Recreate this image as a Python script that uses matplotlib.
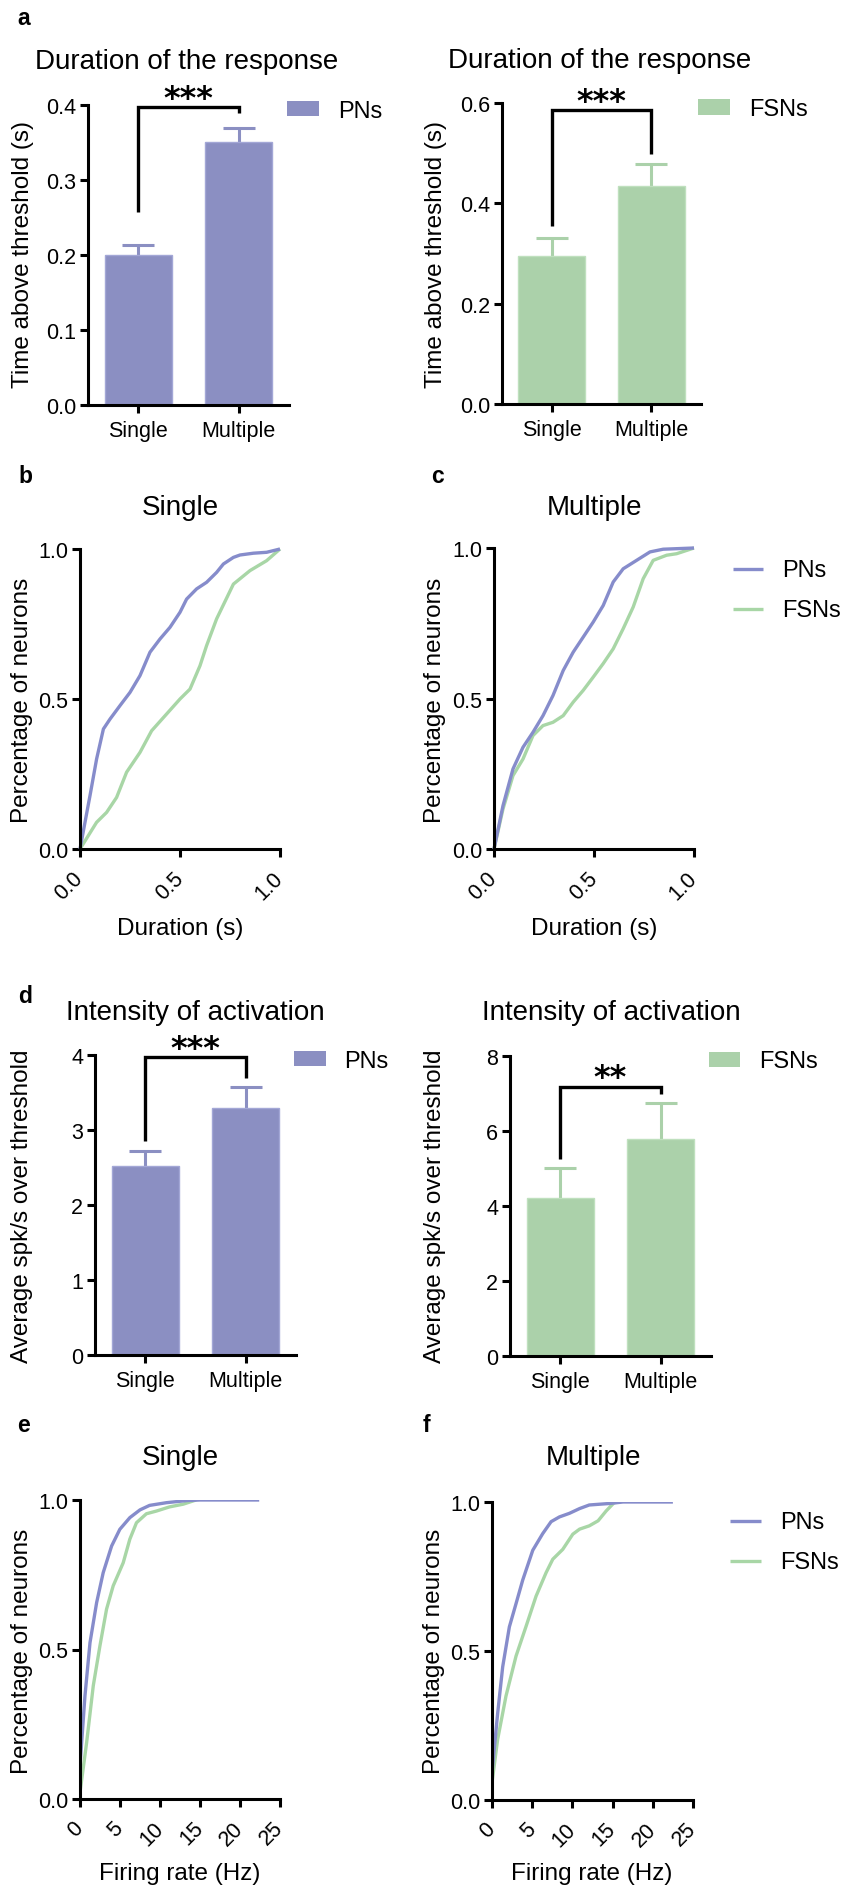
import matplotlib
matplotlib.use('Agg')
import matplotlib.pyplot as plt
import numpy as np
from matplotlib.patches import Rectangle
from matplotlib.lines import Line2D

plt.rcParams['font.family'] = ['Liberation Sans', 'DejaVu Sans']

# ---------------- data ----------------
categories = ['Single', 'Multiple']

dur_pn_mean = [0.200, 0.351]
dur_pn_sem = [0.014, 0.019]
dur_fsn_mean = [0.296, 0.434]
dur_fsn_sem = [0.035, 0.044]

int_pn_mean = [2.52, 3.30]
int_pn_sem = [0.20, 0.27]
int_fsn_mean = [4.22, 5.80]
int_fsn_sem = [0.80, 0.96]

# cumulative distributions of response duration (s)
dur_single_pn_x = [0, 0.05, 0.083, 0.117, 0.15, 0.2, 0.25, 0.3, 0.35, 0.4, 0.45, 0.5, 0.533, 0.583,
                   0.633, 0.683, 0.717, 0.767, 0.8, 0.867, 0.933, 1.0]
dur_single_pn_y = [0, 0.178, 0.30, 0.40, 0.433, 0.478, 0.522, 0.578, 0.656, 0.70, 0.739, 0.789, 0.833,
                   0.867, 0.889, 0.922, 0.95, 0.972, 0.98, 0.986, 0.989, 1.0]
dur_single_fsn_x = [0, 0.083, 0.133, 0.183, 0.233, 0.3, 0.358, 0.433, 0.5, 0.55, 0.6, 0.633, 0.683,
                    0.767, 0.85, 0.933, 1.0]
dur_single_fsn_y = [0, 0.089, 0.122, 0.172, 0.256, 0.322, 0.394, 0.45, 0.5, 0.533, 0.611, 0.678, 0.767,
                    0.883, 0.928, 0.961, 1.0]

dur_multi_pn_x = [0, 0.045, 0.095, 0.145, 0.195, 0.245, 0.295, 0.346, 0.396, 0.446, 0.496, 0.546, 0.596,
                  0.646, 0.713, 0.78, 0.846, 1.0]
dur_multi_pn_y = [0, 0.144, 0.266, 0.338, 0.388, 0.443, 0.51, 0.593, 0.654, 0.704, 0.754, 0.809, 0.887,
                  0.931, 0.959, 0.987, 0.996, 1.0]
dur_multi_fsn_x = [0, 0.045, 0.095, 0.145, 0.195, 0.245, 0.295, 0.346, 0.396, 0.446, 0.496, 0.546, 0.596,
                   0.646, 0.696, 0.746, 0.796, 0.863, 0.913, 1.0]
dur_multi_fsn_y = [0, 0.133, 0.244, 0.299, 0.377, 0.41, 0.421, 0.443, 0.488, 0.527, 0.571, 0.616, 0.665,
                   0.732, 0.804, 0.898, 0.959, 0.976, 0.981, 1.0]

# cumulative distributions of firing rate (Hz)
fr_single_pn_x = [0, 0.62, 1.25, 2.08, 2.9, 3.95, 4.98, 6.23, 7.5, 8.7, 10.8, 13.3, 15.0, 22.4]
fr_single_pn_y = [0.111, 0.345, 0.523, 0.657, 0.757, 0.846, 0.902, 0.941, 0.967, 0.982, 0.991, 0.998, 1.0, 1.0]
fr_single_fsn_x = [0, 0.83, 1.66, 2.49, 3.32, 4.15, 5.4, 6.23, 7.06, 8.3, 9.55, 11.2, 12.9, 14.5]
fr_single_fsn_y = [0.022, 0.189, 0.379, 0.512, 0.635, 0.713, 0.79, 0.869, 0.924, 0.954, 0.963, 0.977, 0.986, 1.0]

fr_multi_pn_x = [0, 0.7, 1.33, 2.16, 2.99, 3.82, 5.07, 6.31, 7.35, 8.39, 9.63, 10.9, 12.1, 14.6, 16.3, 22.5]
fr_multi_pn_y = [0.092, 0.29, 0.447, 0.581, 0.659, 0.738, 0.838, 0.894, 0.934, 0.95, 0.962, 0.978, 0.99,
                 0.995, 1.0, 1.0]
fr_multi_fsn_x = [0, 0.7, 1.74, 2.99, 4.24, 5.48, 6.73, 7.56, 8.8, 10.05, 10.9, 12.1, 13.2, 14.2, 15.2, 15.9]
fr_multi_fsn_y = [0.058, 0.203, 0.349, 0.483, 0.583, 0.684, 0.763, 0.808, 0.841, 0.892, 0.909, 0.92, 0.937,
                  0.97, 0.998, 1.0]

dur_bar_yticks_pn = [0.0, 0.1, 0.2, 0.3, 0.4]
dur_bar_yticks_fsn = [0.0, 0.2, 0.4, 0.6]
int_bar_yticks_pn = [0, 1, 2, 3, 4]
int_bar_yticks_fsn = [0, 2, 4, 6, 8]
cdf_yticks = [0.0, 0.5, 1.0]
dur_xticks = [0.0, 0.5, 1.0]
fr_xticks = [0, 5, 10, 15, 20, 25]

# ---------------- style ----------------
PN_BAR = '#8b8fc2'
PN_EDGE = '#a3a7d6'
FSN_BAR = '#abd1aa'
FSN_EDGE = '#bfe0be'
PN_LINE = '#868ccb'
FSN_LINE = '#a8d6a6'

W, H = 847, 1890
fig = plt.figure(figsize=(W / 100, H / 100), dpi=100)
fig.patch.set_facecolor('white')

SPINE_LW = 2.2
TICK_FS = 15.5
LABEL_FS = 17.5
TITLE_FS = 20
LEG_FS = 17
LETTER_FS = 16.5


def px_axes(x0, y0, x1, y1):
    return fig.add_axes([x0 / W, 1 - y1 / H, (x1 - x0) / W, (y1 - y0) / H])


def ftext(x, y, s, **kw):
    return fig.text(x / W, 1 - y / H, s, **kw)


def style(ax):
    for side in ['top', 'right']:
        ax.spines[side].set_visible(False)
    for side in ['left', 'bottom']:
        ax.spines[side].set_linewidth(SPINE_LW)
        ax.spines[side].set_color('black')
        ax.spines[side].set_capstyle('projecting')
    ax.tick_params(direction='out', length=5.5, width=SPINE_LW, labelsize=TICK_FS,
                   color='black', pad=3)
    ax.set_facecolor('none')


def bar_panel(rect, means, sems, color, edge, ymax, yticks, yfmt, bracket, stars, star_y):
    ax = px_axes(*rect)
    style(ax)
    xpos = np.arange(len(categories))
    # symmetric error bars drawn behind the opaque bars, so only the upper half shows
    ax.errorbar(xpos, means, yerr=sems, fmt='none', ecolor=color,
                elinewidth=2.2, capsize=11.5, capthick=2.2, zorder=1)
    ax.bar(xpos, means, width=0.67, color=color, edgecolor=edge, linewidth=1.0, zorder=2)
    ax.set_xlim(-0.5, 1.5)
    ax.set_ylim(0, ymax)
    ax.set_xticks(xpos)
    ax.set_xticklabels(categories)
    ax.tick_params(axis='x', pad=5)
    ax.set_yticks(yticks)
    ax.set_yticklabels([yfmt.format(v) for v in yticks])
    l0, top, l1 = bracket
    ax.plot([0, 0, 1, 1], [l0, top, top, l1], color='black', lw=2.4, clip_on=False,
            solid_joinstyle='miter', solid_capstyle='butt', zorder=3)
    ax.text(0.5, star_y, stars, ha='center', va='baseline', fontsize=23, fontweight='bold',
            family='DejaVu Sans', clip_on=False)
    return ax


def cdf_panel(rect, series, xlim, xticks, xfmt, clip):
    ax = px_axes(*rect)
    style(ax)
    for xs, ys, col in series:
        ax.plot(xs, ys, color=col, lw=2.4, clip_on=clip, solid_capstyle='butt')
    ax.set_xlim(*xlim)
    ax.set_ylim(0, 1)
    ax.set_yticks(cdf_yticks)
    ax.set_yticklabels(['{:.1f}'.format(v) for v in cdf_yticks])
    ax.set_xticks(xticks)
    ax.set_xticklabels([xfmt.format(v) for v in xticks], rotation=45, ha='right',
                       va='center', rotation_mode='anchor')
    ax.tick_params(axis='x', pad=13)
    return ax


def legend_patch(x0, y0, x1, y1, color, label, tx, ty):
    fig.add_artist(Rectangle((x0 / W, 1 - y1 / H), (x1 - x0) / W, (y1 - y0) / H,
                             transform=fig.transFigure, facecolor=color, edgecolor='none'))
    ftext(tx, ty, label, fontsize=LEG_FS, ha='left', va='baseline')


def legend_line(x0, x1, y, color, label, tx, ty):
    fig.add_artist(Line2D([x0 / W, x1 / W], [1 - y / H, 1 - y / H], transform=fig.transFigure,
                          color=color, lw=2.4, solid_capstyle='butt'))
    ftext(tx, ty, label, fontsize=LEG_FS, ha='left', va='baseline')


# ---------------- panel a ----------------
bar_panel((88, 106, 289, 406), dur_pn_mean, dur_pn_sem, PN_BAR, PN_EDGE, 0.4,
          dur_bar_yticks_pn, '{:.1f}', (0.257, 0.397, 0.390), '***', 0.398)
bar_panel((502, 104, 701, 405), dur_fsn_mean, dur_fsn_sem, FSN_BAR, FSN_EDGE, 0.6,
          dur_bar_yticks_fsn, '{:.1f}', (0.355, 0.586, 0.498), '***', 0.586)
ftext(187, 69, 'Duration of the response', fontsize=TITLE_FS, ha='center', va='baseline')
ftext(600, 68, 'Duration of the response', fontsize=TITLE_FS, ha='center', va='baseline')
ftext(23, 255, 'Time above threshold (s)', fontsize=LABEL_FS, rotation=90, ha='center', va='center')
ftext(436, 255, 'Time above threshold (s)', fontsize=LABEL_FS, rotation=90, ha='center', va='center')
legend_patch(287, 102, 319, 117, PN_BAR, 'PNs', 338, 118)
legend_patch(698, 100, 730, 116, FSN_BAR, 'FSNs', 749, 116)

# ---------------- panels b, c ----------------
cdf_panel((80, 550, 280, 850),
          [(dur_single_fsn_x, dur_single_fsn_y, FSN_LINE), (dur_single_pn_x, dur_single_pn_y, PN_LINE)],
          (0, 1.0), dur_xticks, '{:.1f}', False)
cdf_panel((494, 549, 694, 850),
          [(dur_multi_fsn_x, dur_multi_fsn_y, FSN_LINE), (dur_multi_pn_x, dur_multi_pn_y, PN_LINE)],
          (0, 1.0), dur_xticks, '{:.1f}', False)
ftext(180, 515, 'Single', fontsize=TITLE_FS, ha='center', va='baseline')
ftext(594, 515, 'Multiple', fontsize=TITLE_FS, ha='center', va='baseline')
ftext(22, 700, 'Percentage of neurons', fontsize=LABEL_FS, rotation=90, ha='center', va='center')
ftext(435, 700, 'Percentage of neurons', fontsize=LABEL_FS, rotation=90, ha='center', va='center')
ftext(180, 935, 'Duration (s)', fontsize=LABEL_FS, ha='center', va='baseline')
ftext(594, 935, 'Duration (s)', fontsize=LABEL_FS, ha='center', va='baseline')
legend_line(733, 763, 570, PN_LINE, 'PNs', 782, 577)
legend_line(733, 763, 610, FSN_LINE, 'FSNs', 782, 617)

# ---------------- panel d ----------------
bar_panel((95, 1056, 296, 1356), int_pn_mean, int_pn_sem, PN_BAR, PN_EDGE, 4,
          int_bar_yticks_pn, '{:d}', (2.85, 3.98, 3.70), '***', 3.97)
bar_panel((510, 1057, 711, 1357), int_fsn_mean, int_fsn_sem, FSN_BAR, FSN_EDGE, 8,
          int_bar_yticks_fsn, '{:d}', (5.26, 7.18, 7.0), '**', 7.19)
ftext(195, 1020, 'Intensity of activation', fontsize=TITLE_FS, ha='center', va='baseline')
ftext(611, 1020, 'Intensity of activation', fontsize=TITLE_FS, ha='center', va='baseline')
ftext(22, 1206, 'Average spk/s over threshold', fontsize=LABEL_FS, rotation=90, ha='center', va='center')
ftext(435, 1206, 'Average spk/s over threshold', fontsize=LABEL_FS, rotation=90, ha='center', va='center')
legend_patch(294, 1052, 326, 1067, PN_BAR, 'PNs', 344, 1068)
legend_patch(709, 1053, 740, 1068, FSN_BAR, 'FSNs', 759, 1068)

# ---------------- panels e, f ----------------
cdf_panel((80, 1501, 280, 1800),
          [(fr_single_fsn_x, fr_single_fsn_y, FSN_LINE), (fr_single_pn_x, fr_single_pn_y, PN_LINE)],
          (0, 25), fr_xticks, '{:d}', True)
cdf_panel((492, 1503, 693, 1801),
          [(fr_multi_fsn_x, fr_multi_fsn_y, FSN_LINE), (fr_multi_pn_x, fr_multi_pn_y, PN_LINE)],
          (0, 25), fr_xticks, '{:d}', True)
ftext(180, 1465, 'Single', fontsize=TITLE_FS, ha='center', va='baseline')
ftext(593, 1465, 'Multiple', fontsize=TITLE_FS, ha='center', va='baseline')
ftext(22, 1651, 'Percentage of neurons', fontsize=LABEL_FS, rotation=90, ha='center', va='center')
ftext(434, 1651, 'Percentage of neurons', fontsize=LABEL_FS, rotation=90, ha='center', va='center')
ftext(180, 1880, 'Firing rate (Hz)', fontsize=LABEL_FS, ha='center', va='baseline')
ftext(592, 1880, 'Firing rate (Hz)', fontsize=LABEL_FS, ha='center', va='baseline')
legend_line(730, 761, 1522, PN_LINE, 'PNs', 780, 1529)
legend_line(730, 761, 1562, FSN_LINE, 'FSNs', 780, 1569)

# ---------------- panel letters ----------------
for letter, (lx, ly) in {'a': (17, 25), 'b': (18, 483), 'c': (431, 483), 'd': (18, 1003),
                         'e': (17, 1432), 'f': (423, 1432)}.items():
    ftext(lx, ly, letter, fontsize=LETTER_FS, fontweight='bold', ha='left', va='baseline')

fig.savefig('out.png', dpi=100, facecolor='white')
